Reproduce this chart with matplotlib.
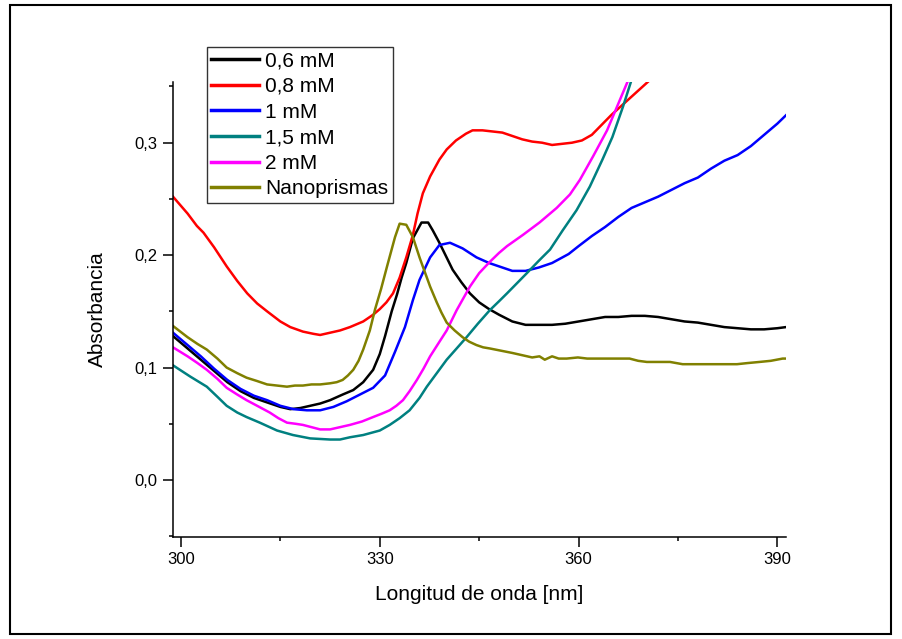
import matplotlib.pyplot as plt
from matplotlib.patches import Rectangle
from matplotlib.ticker import FuncFormatter, MultipleLocator

plt.rcParams['font.family'] = ['Liberation Sans', 'DejaVu Sans']

# 0,6 mM
x_06 = [298.8, 301, 303, 305, 307, 309, 311, 313, 315, 316.5, 318, 319.5, 321, 322.5,
        324.4, 326, 327.5, 329, 330, 330.8, 331.8, 332.6, 333.3, 334, 335, 336.3, 337.3,
        338, 339, 340, 341, 342.3, 343.6, 345, 346.5, 348, 350, 352, 354, 356, 358, 360,
        362, 364, 366, 368, 370, 372, 374, 376, 378, 380, 382, 384, 386, 388, 390, 391.3]
y_06 = [0.128, 0.117, 0.107, 0.097, 0.087, 0.079, 0.073, 0.069, 0.065, 0.063, 0.064,
        0.066, 0.068, 0.071, 0.076, 0.080, 0.087, 0.098, 0.112, 0.128, 0.150, 0.165,
        0.180, 0.193, 0.215, 0.229, 0.229, 0.222, 0.211, 0.199, 0.187, 0.176, 0.166,
        0.158, 0.152, 0.147, 0.141, 0.138, 0.138, 0.138, 0.139, 0.141, 0.143, 0.145,
        0.145, 0.146, 0.146, 0.145, 0.143, 0.141, 0.140, 0.138, 0.136, 0.135, 0.134,
        0.134, 0.135, 0.136]

# 0,8 mM
x_08 = [298.8, 301, 302.4, 303.4, 305, 306.9, 308.5, 310, 311.5, 313, 315, 316.5, 318.4,
        320, 321, 322.5, 324, 325.5, 327.5, 329, 330, 331, 332, 333, 334, 335, 335.7,
        336.5, 337.6, 339, 340.1, 341.5, 343, 344, 345.5, 347, 348.5, 350, 351.5, 353,
        354.5, 356, 357.5, 359, 360.5, 362, 363.5, 365, 366.5, 368, 369.5, 371, 372]
y_08 = [0.252, 0.237, 0.226, 0.220, 0.207, 0.190, 0.177, 0.166, 0.157, 0.150, 0.141,
        0.136, 0.132, 0.130, 0.129, 0.131, 0.133, 0.136, 0.141, 0.147, 0.152, 0.158,
        0.166, 0.180, 0.198, 0.218, 0.237, 0.255, 0.270, 0.285, 0.294, 0.302, 0.308,
        0.311, 0.311, 0.310, 0.309, 0.306, 0.303, 0.301, 0.300, 0.298, 0.299, 0.300,
        0.302, 0.307, 0.316, 0.325, 0.333, 0.341, 0.349, 0.357, 0.362]

# 1 mM
x_1 = [298.8, 301, 303, 305, 307, 309, 311, 313, 315, 317, 319, 321, 323, 325, 327, 329,
       330.8, 332.3, 333.8, 335, 336, 337.6, 339, 340.6, 342.5, 344.6, 346.5, 348.5,
       350, 352, 354, 356, 358.5, 360, 362, 364, 366, 368, 370, 372, 374, 376, 378,
       380, 382, 384, 386, 388, 390, 391.4]
y_1 = [0.131, 0.120, 0.110, 0.099, 0.089, 0.081, 0.075, 0.071, 0.066, 0.063, 0.062,
       0.062, 0.065, 0.070, 0.076, 0.082, 0.093, 0.114, 0.136, 0.160, 0.178, 0.198,
       0.209, 0.211, 0.206, 0.198, 0.193, 0.189, 0.186, 0.186, 0.189, 0.193, 0.201,
       0.208, 0.217, 0.225, 0.234, 0.242, 0.247, 0.252, 0.258, 0.264, 0.269, 0.277,
       0.284, 0.289, 0.297, 0.307, 0.317, 0.325]

# 1,5 mM
x_15 = [298.8, 301.4, 303.9, 305.5, 306.9, 308.5, 309.9, 311.9, 314.5, 316.9, 319.5,
        322.5, 324, 325.5, 327.5, 330, 331.5, 333, 334.5, 336, 337.1, 338.6, 340.1,
        341.6, 343.1, 344.8, 346.6, 348, 349.2, 350.7, 352.2, 354, 355.7, 357.6, 359.7,
        361.7, 363.6, 365.1, 366.7, 368]
y_15 = [0.102, 0.092, 0.083, 0.074, 0.066, 0.060, 0.056, 0.051, 0.044, 0.040, 0.037,
        0.036, 0.036, 0.038, 0.040, 0.044, 0.049, 0.055, 0.062, 0.073, 0.083, 0.095,
        0.107, 0.117, 0.127, 0.139, 0.151, 0.159, 0.166, 0.175, 0.184, 0.195, 0.205,
        0.222, 0.240, 0.261, 0.285, 0.305, 0.332, 0.356]

# 2 mM
x_2 = [298.8, 301, 302.5, 303.9, 305.5, 306.9, 308.5, 309.9, 311.5, 313.4, 314.7, 316,
       317.3, 318.4, 319.7, 321, 322.5, 324, 325.5, 327.3, 329, 330.3, 331.5, 332.5,
       333.5, 334.5, 335.6, 336.6, 337.6, 338.9, 340.1, 341.6, 343.6, 345, 346.6, 348,
       349.2, 351.6, 354.1, 356.7, 358.7, 360.2, 362.2, 364.3, 365.8, 367.3, 368]
y_2 = [0.118, 0.110, 0.104, 0.098, 0.090, 0.082, 0.076, 0.071, 0.066, 0.060, 0.055,
       0.051, 0.050, 0.049, 0.047, 0.045, 0.045, 0.047, 0.049, 0.052, 0.056, 0.059,
       0.062, 0.066, 0.071, 0.079, 0.089, 0.099, 0.110, 0.122, 0.133, 0.151, 0.172,
       0.184, 0.194, 0.202, 0.208, 0.218, 0.229, 0.242, 0.254, 0.267, 0.288, 0.311,
       0.332, 0.353, 0.362]

# Nanoprismas
x_np = [298.8, 301, 302.5, 303.9, 305.5, 306.9, 308.5, 309.9, 311.5, 313, 314.5, 316,
        317.2, 318.4, 319.7, 321, 322.5, 323.5, 324.4, 325.2, 326, 326.8, 327.5, 328.5,
        329.3, 330.2, 331.1, 332.3, 333, 334, 335, 336, 336.8, 337.6, 338.6, 339.3,
        340.1, 341.3, 342.5, 343.5, 344.6, 345.6, 346.6, 348.3, 350, 351.5, 353, 354.1,
        354.9, 356, 357, 358.2, 359.9, 361.3, 362.7, 365, 367.7, 369, 370.3, 372, 373.8,
        375.7, 378, 381, 383.9, 385.5, 387.3, 389, 390.8, 391.3]
y_np = [0.137, 0.127, 0.121, 0.116, 0.108, 0.100, 0.095, 0.091, 0.088, 0.085, 0.084,
        0.083, 0.084, 0.084, 0.085, 0.085, 0.086, 0.087, 0.089, 0.093, 0.098, 0.106,
        0.116, 0.133, 0.152, 0.170, 0.190, 0.216, 0.228, 0.227, 0.216, 0.198, 0.185,
        0.172, 0.158, 0.149, 0.140, 0.133, 0.127, 0.123, 0.120, 0.118, 0.117, 0.115,
        0.113, 0.111, 0.109, 0.110, 0.107, 0.110, 0.108, 0.108, 0.109, 0.108, 0.108,
        0.108, 0.108, 0.106, 0.105, 0.105, 0.105, 0.103, 0.103, 0.103, 0.103, 0.104,
        0.105, 0.106, 0.108, 0.108]

series = [
    (x_06, y_06, '0,6 mM', '#000000'),
    (x_08, y_08, '0,8 mM', '#ff0000'),
    (x_1, y_1, '1 mM', '#0000ff'),
    (x_15, y_15, '1,5 mM', '#008080'),
    (x_2, y_2, '2 mM', '#ff00ff'),
    (x_np, y_np, 'Nanoprismas', '#808000'),
]

fig = plt.figure(figsize=(9.02, 6.39), dpi=100)
ax = fig.add_axes([173 / 902, 1 - 537 / 639, (786 - 173) / 902, (537 - 82) / 639])

for xs, ys, label, color in series:
    ax.plot(xs, ys, color=color, lw=1.8, label=label)

ax.set_xlim(298.8, 391.3)
ax.set_ylim(-0.0507, 0.354)

ax.xaxis.set_major_locator(MultipleLocator(30))
ax.xaxis.set_minor_locator(MultipleLocator(15))
ax.yaxis.set_major_locator(MultipleLocator(0.1))
ax.yaxis.set_minor_locator(MultipleLocator(0.05))
ax.yaxis.set_major_formatter(FuncFormatter(lambda v, p: f'{v:.1f}'.replace('.', ',').replace('-0,0', '0,0')))

for side in ['top', 'right']:
    ax.spines[side].set_visible(False)
for side in ['left', 'bottom']:
    ax.spines[side].set_linewidth(1.1)

ax.tick_params(which='major', direction='out', length=7, width=1.1, labelsize=12, pad=4)
ax.tick_params(which='minor', direction='out', length=3, width=1.1)

ax.set_xlabel('Longitud de onda [nm]', fontsize=15, labelpad=13)
ax.set_ylabel('Absorbancia', fontsize=15, labelpad=20)

leg = ax.legend(loc='upper left', bbox_to_anchor=(207 / 902, 1 - 47 / 639),
                bbox_transform=fig.transFigure, fontsize=15, frameon=True,
                fancybox=False, framealpha=1, edgecolor='#333333', borderaxespad=0,
                borderpad=0.2, labelspacing=0.32, handlelength=2.3, handletextpad=0.3)
leg.get_frame().set_linewidth(1.0)
for line in leg.get_lines():
    line.set_linewidth(2.5)

# outer frame around the whole figure
fig.patches.append(Rectangle((10 / 902, 1 - 634 / 639), 881 / 902, 629 / 639,
                             transform=fig.transFigure, fill=False, lw=1.5,
                             edgecolor='black'))

plt.savefig('out.png', dpi=100)
